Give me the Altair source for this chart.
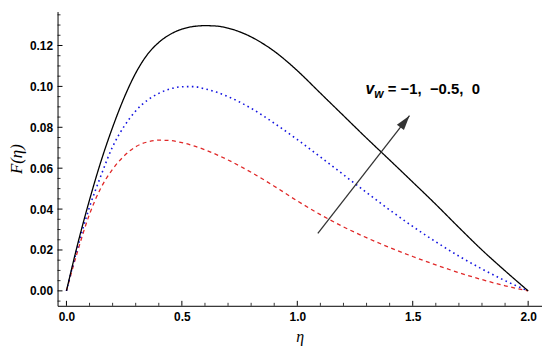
import altair as alt
import pandas as pd

# --- data ---
eta_black = [0, 0.05, 0.1, 0.15, 0.2, 0.25, 0.3, 0.35, 0.4, 0.45, 0.5, 0.55, 0.6, 0.65, 0.7,
             0.75, 0.8, 0.85, 0.9, 0.95, 1.0, 1.1, 1.2, 1.3, 1.4, 1.5, 1.6, 1.7, 1.8, 1.9, 2.0]
F_black = [0, 0.0235, 0.0445, 0.0635, 0.080, 0.0945, 0.1065, 0.1155, 0.1215, 0.1255, 0.128,
           0.1293, 0.1297, 0.1295, 0.1285, 0.1267, 0.1242, 0.121, 0.1172, 0.1127, 0.1077,
           0.0967, 0.0857, 0.0747, 0.064, 0.0532, 0.0423, 0.031, 0.020, 0.0098, 0]

eta_blue = [0, 0.05, 0.1, 0.15, 0.2, 0.25, 0.3, 0.35, 0.4, 0.45, 0.5, 0.55, 0.6, 0.65, 0.7,
            0.8, 0.9, 1.0, 1.1, 1.2, 1.3, 1.4, 1.5, 1.6, 1.7, 1.8, 1.9, 2.0]
F_blue = [0, 0.022, 0.041, 0.0565, 0.0705, 0.0805, 0.088, 0.0932, 0.0966, 0.0988, 0.0998,
          0.0999, 0.0988, 0.0972, 0.095, 0.0893, 0.082, 0.074, 0.0655, 0.0568, 0.0481,
          0.0396, 0.0315, 0.024, 0.017, 0.0107, 0.005, 0]

eta_red = [0, 0.05, 0.1, 0.15, 0.2, 0.25, 0.3, 0.35, 0.4, 0.45, 0.5, 0.6, 0.7, 0.8, 0.9,
           1.0, 1.1, 1.2, 1.3, 1.4, 1.5, 1.6, 1.7, 1.8, 1.9, 2.0]
F_red = [0, 0.020, 0.0375, 0.0505, 0.0595, 0.066, 0.0705, 0.0728, 0.0737, 0.0735, 0.0725,
         0.069, 0.064, 0.058, 0.0512, 0.044, 0.0373, 0.0313, 0.026, 0.0212, 0.0168, 0.0127,
         0.0089, 0.0055, 0.0025, 0]

x_major = [0.0, 0.5, 1.0, 1.5, 2.0]
x_minor = [0.1, 0.2, 0.3, 0.4, 0.6, 0.7, 0.8, 0.9, 1.1, 1.2, 1.3, 1.4, 1.6, 1.7, 1.8, 1.9]
y_major = [0.00, 0.02, 0.04, 0.06, 0.08, 0.10, 0.12]
y_minor = [-0.005, 0.005, 0.01, 0.015, 0.025, 0.03, 0.035, 0.045, 0.05, 0.055, 0.065, 0.07,
           0.075, 0.085, 0.09, 0.095, 0.105, 0.11, 0.115, 0.125, 0.13, 0.135]

arrow_eta = [1.089, 1.486]
arrow_F = [0.0281, 0.0857]

NB = "\u00a0"
label_v = "v"
label_w = "w"
label_rest = "=" + NB + "\u22121," + NB * 2 + "\u22120.5," + NB * 2 + "0"
label_eta = [1.295, 1.333, 1.392]
label_F = [0.0963, 0.0943, 0.0963]

W, H = 489, 297
xdom = [-0.0386, 2.06]
ydom = [-0.0073, 0.1366]

xs = alt.Scale(domain=xdom, nice=False, zero=False)
ys = alt.Scale(domain=ydom, nice=False, zero=False)

lab = dict(labelFont="Liberation Sans", labelFontWeight="bold", labelFontSize=12,
           labelColor="black", ticks=False, grid=False, domainColor="black", domainWidth=1,
           titleFont="Liberation Serif", titleFontStyle="italic", titleFontWeight="normal",
           titleColor="black")

xaxis = alt.Axis(values=x_major, format=".1f", labelPadding=6, title="\u03b7",
                 titleFontSize=16, titlePadding=6, **lab)
yaxis = alt.Axis(values=y_major, format=".2f", labelPadding=5, title="F(\u03b7)",
                 titleFontSize=17, titlePadding=4, **lab)


def curve(xv, yv, color, dash, width):
    df = pd.DataFrame({"eta": xv, "F": yv})
    return alt.Chart(df).mark_line(color=color, strokeDash=dash, strokeWidth=width,
                                   interpolate="monotone").encode(
        x=alt.X("eta:Q", scale=xs, axis=xaxis),
        y=alt.Y("F:Q", scale=ys, axis=yaxis))


black = curve(eta_black, F_black, "black", [1, 0], 1.3)
blue = curve(eta_blue, F_blue, "#1414e0", [1.6, 3.4], 1.6)
red = curve(eta_red, F_red, "#e02828", [4, 3.5], 1.3)

# inward ticks
ymaj = alt.Chart(pd.DataFrame({"v": y_major})).mark_rule(color="black", strokeWidth=1).encode(
    y=alt.Y("v:Q", scale=ys), x=alt.value(0), x2=alt.value(5))
ymin = alt.Chart(pd.DataFrame({"v": y_minor})).mark_rule(color="black", strokeWidth=0.8).encode(
    y=alt.Y("v:Q", scale=ys), x=alt.value(0), x2=alt.value(3))
xmaj = alt.Chart(pd.DataFrame({"v": x_major})).mark_rule(color="black", strokeWidth=1).encode(
    x=alt.X("v:Q", scale=xs), y=alt.value(H), y2=alt.value(H - 5))
xmin = alt.Chart(pd.DataFrame({"v": x_minor})).mark_rule(color="black", strokeWidth=0.8).encode(
    x=alt.X("v:Q", scale=xs), y=alt.value(H), y2=alt.value(H - 3))

# arrow
arr_df = pd.DataFrame({"eta": arrow_eta, "F": arrow_F})
arrow_line = alt.Chart(arr_df).mark_line(color="#333333", strokeWidth=1.3).encode(
    x=alt.X("eta:Q", scale=xs), y=alt.Y("F:Q", scale=ys))
head_df = pd.DataFrame({"eta": arrow_eta[1:], "F": arrow_F[1:]})
arrow_head = alt.Chart(head_df).mark_point(
    shape="M0,0 L0.45,1.5 L-0.45,1.5 Z", filled=True, color="#333333", opacity=1,
    size=400, angle=37.7).encode(x=alt.X("eta:Q", scale=xs), y=alt.Y("F:Q", scale=ys))


# annotation
def txt(i, s, size, style):
    df = pd.DataFrame({"eta": [label_eta[i]], "F": [label_F[i]], "t": [s]})
    return alt.Chart(df).mark_text(align="left", baseline="alphabetic", font="Liberation Sans",
                                   fontWeight="bold", fontStyle=style, fontSize=size,
                                   color="black").encode(
        x=alt.X("eta:Q", scale=xs), y=alt.Y("F:Q", scale=ys), text="t:N")


t1 = txt(0, label_v, 16, "italic")
t2 = txt(1, label_w, 12, "italic")
t3 = txt(2, label_rest, 15, "normal")

chart = alt.layer(red, blue, black, ymaj, ymin, xmaj, xmin, arrow_line, arrow_head, t1, t2, t3).properties(
    width=W, height=H,
    autosize=alt.AutoSizeParams(type="none"),
    padding={"left": 50, "top": 2, "right": 0, "bottom": 40},
).configure_view(stroke=None)

chart.save("out.html", embed_options={"renderer": "svg", "actions": False})
